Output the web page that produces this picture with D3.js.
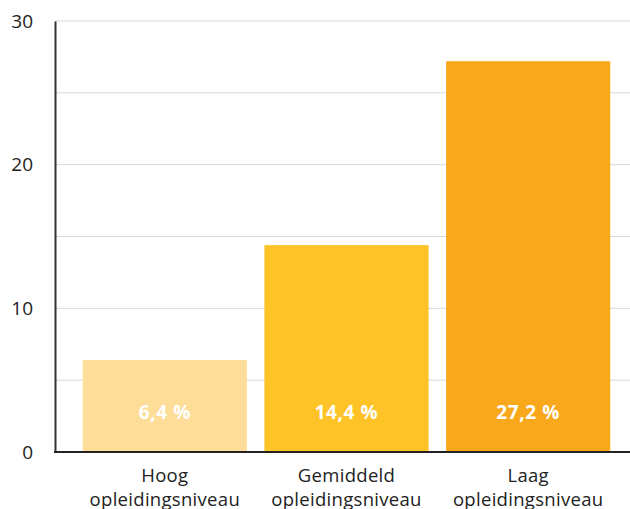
<!DOCTYPE html>
<html>
<head>
<meta charset="utf-8">
<script src="https://cdn.jsdelivr.net/npm/d3@7"></script>
<style>
  body { margin: 0; background: #fff; }
  svg { display: block; }
  text { font-family: "Open Sans", sans-serif; }
</style>
</head>
<body>
<div id="chart"></div>
<script>
// data
const categories = ["Hoog opleidingsniveau", "Gemiddeld opleidingsniveau", "Laag opleidingsniveau"];
const labelLines = [["Hoog", "opleidingsniveau"], ["Gemiddeld", "opleidingsniveau"], ["Laag", "opleidingsniveau"]];
const values = [6.4, 14.4, 27.2];
const valueLabels = ["6,4 %", "14,4 %", "27,2 %"];
const barColors = ["#fddd98", "#fec326", "#f9a81c"];
const yTicks = [0, 10, 20, 30];
const gridTicks = [5, 10, 15, 20, 25, 30];

const W = 630, H = 509;
const axisX = 55, chartRight = 630;

const svg = d3.select("#chart").append("svg").attr("width", W).attr("height", H);

const y = d3.scaleLinear().domain([0, 30]).range([452, 21]);
const x = d3.scaleBand().domain(categories).range([74, 619])
  .paddingInner(0.0964).paddingOuter(0.0482);

// gridlines
svg.append("g").selectAll("line").data(gridTicks).enter().append("line")
  .attr("x1", axisX).attr("x2", chartRight)
  .attr("y1", d => y(d)).attr("y2", d => y(d))
  .attr("stroke", "#d9d9d9").attr("stroke-width", 1);

// bars
svg.append("g").selectAll("rect").data(values).enter().append("rect")
  .attr("x", (d, i) => x(categories[i]))
  .attr("width", x.bandwidth())
  .attr("y", d => y(d))
  .attr("height", d => y(0) - y(d))
  .attr("fill", (d, i) => barColors[i]);

// value labels
svg.append("g").selectAll("text").data(valueLabels).enter().append("text")
  .attr("x", (d, i) => x(categories[i]) + x.bandwidth() / 2)
  .attr("y", 419)
  .attr("text-anchor", "middle")
  .attr("fill", "#fff")
  .attr("font-size", 19)
  .attr("font-weight", "bold")
  .attr("letter-spacing", 0.6)
  .text(d => d);

// y axis
const yAxis = svg.append("g").attr("transform", `translate(${axisX},0)`)
  .call(d3.axisLeft(y).tickValues(yTicks).tickSize(0).tickPadding(22).tickFormat(d3.format("d")));
yAxis.select(".domain").attr("stroke", "#333").attr("stroke-width", 2);
yAxis.selectAll("text").attr("font-size", 19).attr("fill", "#222")
  .attr("font-family", "'Open Sans', sans-serif");

// x axis baseline
svg.append("line")
  .attr("x1", axisX - 1).attr("x2", chartRight)
  .attr("y1", y(0)).attr("y2", y(0))
  .attr("stroke", "#222").attr("stroke-width", 2);

// category labels
const cat = svg.append("g").selectAll("text").data(labelLines).enter().append("text")
  .attr("x", (d, i) => x(categories[i]) + x.bandwidth() / 2)
  .attr("y", 482)
  .attr("text-anchor", "middle")
  .attr("fill", "#222")
  .attr("font-size", 18.5)
  .attr("letter-spacing", 0.3);
cat.selectAll("tspan").data(d => d).enter().append("tspan")
  .attr("x", function () { return d3.select(this.parentNode).attr("x"); })
  .attr("dy", (d, i) => i === 0 ? 0 : 24)
  .text(d => d);
</script>
</body>
</html>
